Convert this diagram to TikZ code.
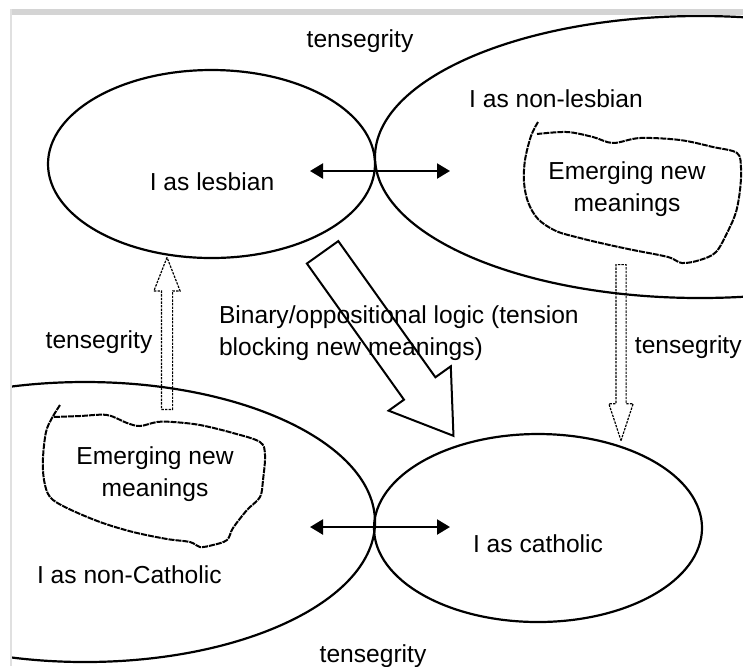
\documentclass[tikz,border=0pt]{standalone}
\usepackage{fontspec}
\setmainfont{Liberation Sans}
\usetikzlibrary{arrows.meta,shapes.geometric,shapes.arrows}
\definecolor{framegray}{gray}{0.83}
\definecolor{edgegray}{gray}{0.88}

\begin{document}
\begin{tikzpicture}[
  x=0.5pt, y=-0.5pt,
  every node/.style={font=\fontsize{12.3}{16}\selectfont},
  selfring/.style={ellipse, draw=black, line width=1.1pt, inner sep=0pt},
  pullarrow/.style={{Triangle[length=6.5pt, width=7.5pt]}-{Triangle[length=6.5pt, width=7.5pt]}, line width=1.1pt},
  logicarrow/.style={single arrow, draw=black, line width=1pt, anchor=tail, inner xsep=0pt},
  tensarrow/.style={single arrow, draw=black, line width=0.6pt, dash pattern=on 1.2pt off 0.6pt, anchor=tail, inner xsep=0pt},
  cloudline/.style={line width=1pt, dash pattern=on 3pt off 0.5pt, line join=round},
]

\useasboundingbox (0,0) rectangle (743,666);

% ---- frame of the scan ----
\fill[framegray] (10,9) rectangle (743,15);
\fill[edgegray] (10,9) rectangle (12,666);

\begin{scope}
\clip (12,15) rectangle (743,666);

% ---- the four selves ----
\node[selfring, minimum width=163.5pt, minimum height=94pt] (lesbian) at (211.5,164) {};
\node[selfring, minimum width=325pt, minimum height=141pt] (nonlesbian) at (700,157) {};
\node[selfring, minimum width=290pt, minimum height=140pt] (noncatholic) at (85,522) {};
\node[selfring, minimum width=164pt, minimum height=94pt] (catholic) at (538,528) {};

% ---- emerging meanings (clouds) ----
\draw[cloudline] plot[smooth, tension=0.55] coordinates {
  (538,122) (531,136) (525,160) (524,182) (528,202) (538,219) (556,231)
  (580,238) (605,244) (633,250) (668,257) (682,263) (700,260) (716,252)
  (728,231) (736,212) (740,190) (741,168) (737,153) (713,147) (680,140)
  (640,138) (613,143) (593,137) (567,132) (537,134)};
\draw[cloudline] plot[smooth, tension=0.55] coordinates {
  (60,405) (52,418) (46,432) (43,458) (44,480) (50,497) (67,508) (100,522)
  (133,532) (167,539) (190,542) (200,547) (213,545) (227,540) (233,528)
  (247,510) (260,497) (263,480) (265,455) (260,442) (233,433) (200,425)
  (173,422) (157,422) (140,426) (127,423) (107,415) (80,416) (53,417)};

% ---- labels (base = baseline of the last line) ----
\node[anchor=base] (toptens) at (360,47) {tensegrity};
\node[anchor=base] (nonlesbiantext) at (556,107) {I as non-lesbian};
\node[anchor=base] (lesbiantext) at (212,190) {I as lesbian};
\node[anchor=base, align=center] (cloudtop) at (627,211) {Emerging new\\meanings};
\node[anchor=base west, align=left] (logictext) at (212,355) {Binary/oppositional logic (tension\\blocking new meanings)};
\node[anchor=base] (lefttens) at (99,348) {tensegrity};
\node[anchor=base east, inner xsep=0pt] (righttens) at (742,353) {tensegrity};
\node[anchor=base, align=center] (cloudbottom) at (155,496) {Emerging new\\meanings};
\node[anchor=base west] (noncatholictext) at (30,583) {I as non-Catholic};
\node[anchor=base] (catholictext) at (538,552) {I as catholic};
\node[anchor=base] (bottomtens) at (373,662) {tensegrity};

% ---- pulls across the touching points ----
\coordinate (upperleft) at (310,171);
\coordinate (upperright) at (450,171);
\coordinate (lowerleft) at (310,527);
\coordinate (lowerright) at (450,527);
\draw[pullarrow] (upperleft) -- (upperright);
\draw[pullarrow] (lowerleft) -- (lowerright);

% ---- block arrows ----
\node[logicarrow, rotate=-54.5, minimum height=112.7pt, inner ysep=9.15pt,
  single arrow head extend=9.45pt, single arrow tip angle=66.6] (logicarrow) at (322,251.5) {};
\node[tensarrow, rotate=90, minimum height=76pt, inner ysep=2.5pt,
  single arrow head extend=3.75pt, single arrow tip angle=42.7] (tensup) at (167,410) {};
\node[tensarrow, rotate=-90, minimum height=88pt, inner ysep=2.25pt,
  single arrow head extend=3.5pt, single arrow tip angle=36.4] (tensdown) at (621,264) {};
\end{scope}

\end{tikzpicture}
\end{document}
